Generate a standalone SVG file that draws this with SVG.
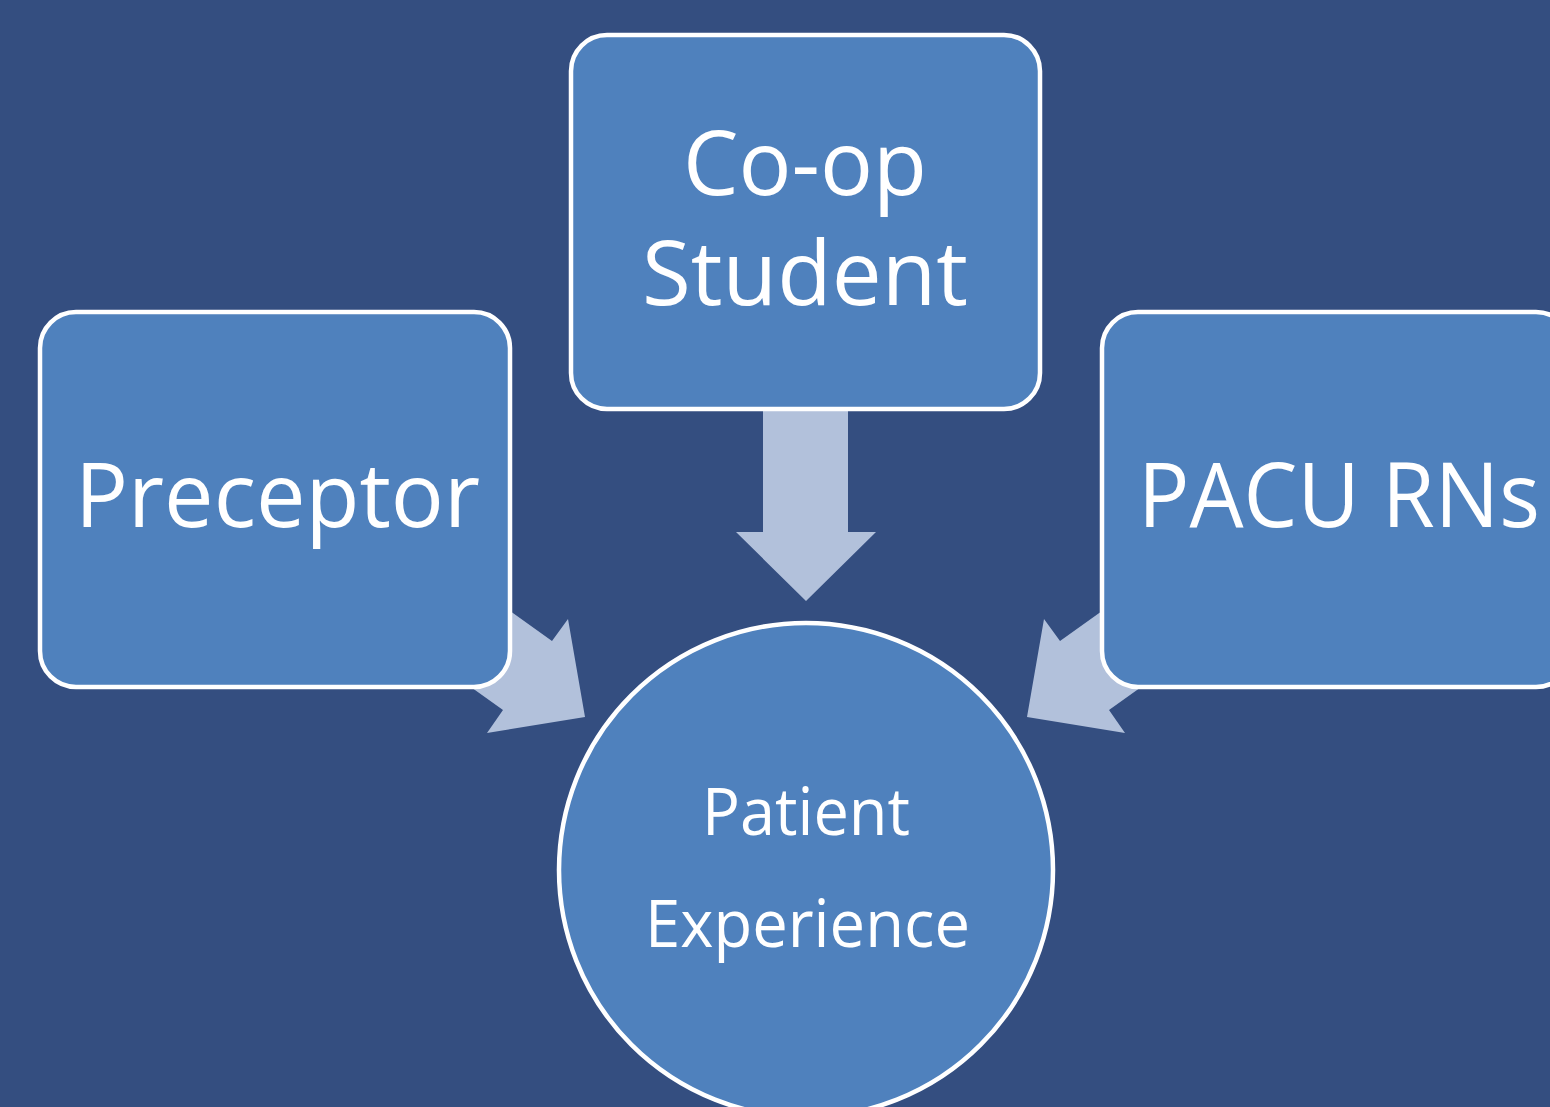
<svg xmlns="http://www.w3.org/2000/svg" width="1550" height="1107" viewBox="0 0 1550 1107">
<style>
.node{fill:#4f81bd;stroke:#ffffff;stroke-width:4.5}
.arrow{fill:#b2c1db}
.lbl{font-family:"Open Sans","Liberation Sans",sans-serif;fill:#ffffff;text-anchor:middle}
</style>
<rect width="1550" height="1107" fill="#344e80"/>
<g id="connectors">
<polygon class="arrow" points="763,411 848,411 848,532 876,532 806,601 736,532 763,532"/>
<polygon class="arrow" points="454,571 552,641 568,619 585,717 487,733 503,710 405,640"/>
<polygon class="arrow" transform="translate(1612,0) scale(-1,1)" points="454,571 552,641 568,619 585,717 487,733 503,710 405,640"/>
</g>
<g id="node-coop">
<rect class="node" x="571" y="35" width="469" height="374" rx="36"/>
<text class="lbl" x="805" y="195" font-size="90" textLength="244" lengthAdjust="spacingAndGlyphs">Co-op</text>
<text class="lbl" x="805" y="305" font-size="90" textLength="326" lengthAdjust="spacingAndGlyphs">Student</text>
</g>
<g id="node-preceptor">
<rect class="node" x="40" y="312" width="470" height="375" rx="36"/>
<text class="lbl" x="277.5" y="527" font-size="90" textLength="405" lengthAdjust="spacingAndGlyphs">Preceptor</text>
</g>
<g id="node-pacu">
<rect class="node" x="1102" y="312" width="470" height="375" rx="36"/>
<text class="lbl" x="1339" y="527" font-size="90" textLength="402" lengthAdjust="spacingAndGlyphs">PACU RNs</text>
</g>
<g id="node-patient">
<circle class="node" cx="806" cy="870" r="247"/>
<text class="lbl" x="806" y="835" font-size="66" textLength="208" lengthAdjust="spacingAndGlyphs">Patient</text>
<text class="lbl" x="807.5" y="947" font-size="66" textLength="325" lengthAdjust="spacingAndGlyphs">Experience</text>
</g>
</svg>
